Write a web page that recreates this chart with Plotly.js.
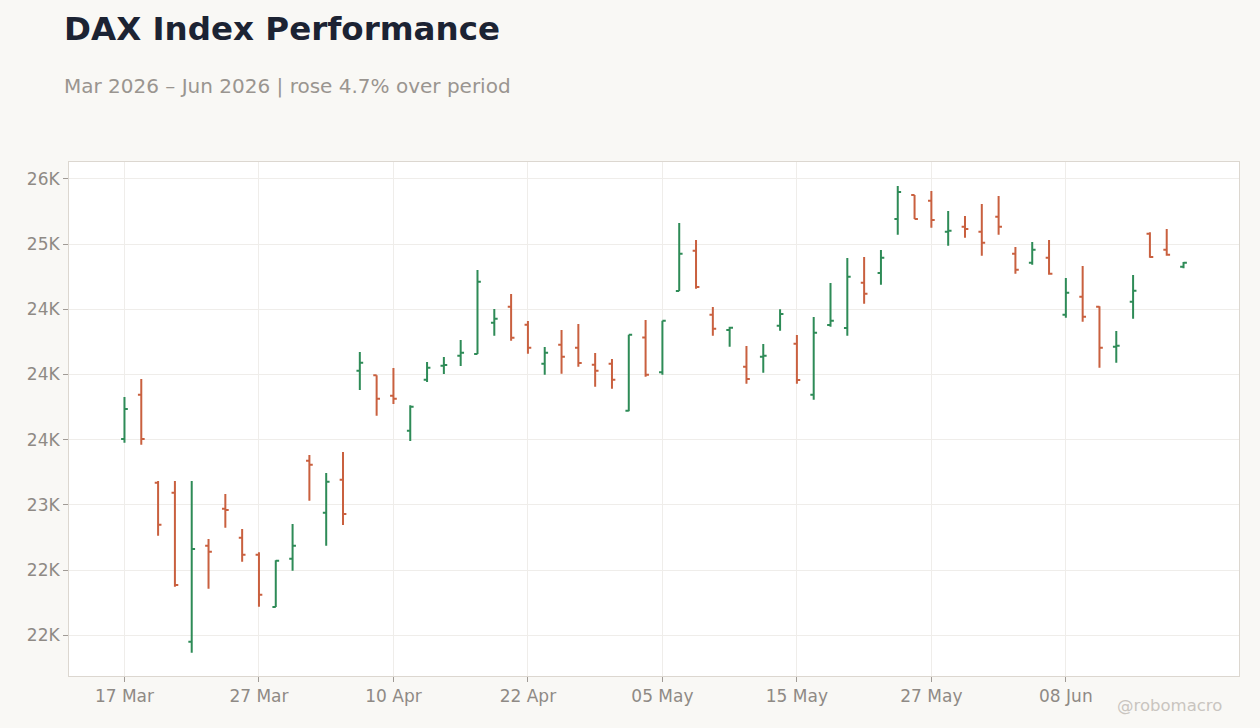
<!DOCTYPE html>
<html lang="en">
<head>
    <meta charset="UTF-8">
    <title>DAX Index Performance</title>
    <script src="https://cdn.plot.ly/plotly-3.0.1.min.js"></script>
    <style>
        * { margin: 0; padding: 0; box-sizing: border-box; }
        body { background: #f9f8f5; }
        #chart { width: 1260px; height: 728px; }
    </style>
</head>
<body>
    <div id="chart"></div>

    <script>
        // trading days (Xetra calendar, holidays skipped)
        const dates = [
            '2026-03-17', '2026-03-18', '2026-03-19', '2026-03-20', '2026-03-23', '2026-03-24',
            '2026-03-25', '2026-03-26', '2026-03-27', '2026-03-30', '2026-03-31', '2026-04-01',
            '2026-04-02', '2026-04-07', '2026-04-08', '2026-04-09', '2026-04-10', '2026-04-13',
            '2026-04-14', '2026-04-15', '2026-04-16', '2026-04-17', '2026-04-20', '2026-04-21',
            '2026-04-22', '2026-04-23', '2026-04-24', '2026-04-27', '2026-04-28', '2026-04-29',
            '2026-04-30', '2026-05-04', '2026-05-05', '2026-05-06', '2026-05-07', '2026-05-08',
            '2026-05-11', '2026-05-12', '2026-05-13', '2026-05-14', '2026-05-15', '2026-05-18',
            '2026-05-19', '2026-05-20', '2026-05-21', '2026-05-22', '2026-05-25', '2026-05-26',
            '2026-05-27', '2026-05-28', '2026-05-29', '2026-06-01', '2026-06-02', '2026-06-03',
            '2026-06-04', '2026-06-05', '2026-06-08', '2026-06-09', '2026-06-10', '2026-06-11',
            '2026-06-12', '2026-06-15', '2026-06-16', '2026-06-17'
        ];

        const openPx = [
            23505, 23845, 23170, 23094, 21951, 22687, 22971, 22749, 22618, 22217, 22587, 23339,
            22940, 23193, 24029, 23994, 23838, 23569, 23960, 24068, 24144, 24157, 24397, 24520,
            24382, 24083, 24229, 24206, 24075, 24083, 23722, 24285, 24017, 24640, 24949, 24459,
            24341, 24060, 24137, 24374, 24236, 23845, 24380, 24357, 24704, 24778, 25193, 25376,
            25333, 25095, 25134, 25095, 25210, 24927, 24857, 24896, 24459, 24597, 24520, 24213,
            24558, 25080, 24957, 24827
        ];
        const highPx = [
            23827, 23966, 23183, 23183, 23183, 22739, 23084, 22815, 22637, 22575, 22854, 23383,
            23245, 23406, 24173, 23994, 24050, 23764, 24096, 24134, 24265, 24802, 24502, 24617,
            24410, 24211, 24341, 24387, 24165, 24119, 24305, 24418, 24413, 25162, 25032, 24518,
            24367, 24219, 24234, 24500, 24303, 24441, 24702, 24894, 24901, 24955, 25446, 25376,
            25407, 25254, 25216, 25308, 25369, 24978, 25016, 25032, 24740, 24832, 24523, 24334,
            24763, 25091, 25116, 24863
        ];
        const lowPx = [
            23477, 23462, 22764, 22373, 21867, 22357, 22825, 22564, 22219, 22217, 22495, 23032,
            22687, 22846, 23881, 23684, 23774, 23490, 23943, 24004, 24065, 24157, 24298, 24259,
            24160, 23999, 24006, 24060, 23906, 23891, 23718, 23983, 23999, 24640, 24658, 24298,
            24213, 23930, 24014, 24336, 23930, 23807, 24367, 24298, 24543, 24689, 25072, 25193,
            25126, 24988, 25049, 24911, 25072, 24773, 24842, 24765, 24436, 24405, 24052, 24091,
            24428, 24896, 24911, 24815
        ];
        const closePx = [
            23735, 23505, 22848, 22386, 22662, 22641, 22961, 22618, 22311, 22572, 22687, 23308,
            23178, 22930, 24091, 23815, 23815, 23753, 24052, 24073, 24167, 24712, 24428, 24282,
            24206, 24167, 24137, 24088, 24029, 23960, 24305, 23999, 24413, 24926, 24671, 24351,
            24359, 23966, 24144, 24464, 23958, 24321, 24413, 24750, 24620, 24896, 25400, 25193,
            25185, 25103, 25116, 25011, 25134, 24804, 24957, 24773, 24627, 24443, 24206, 24221,
            24643, 24901, 24919, 24857
        ];

        const xTickDates = ['2026-03-17', '2026-03-27', '2026-04-10', '2026-04-22',
                            '2026-05-05', '2026-05-15', '2026-05-27', '2026-06-08'];
        const xTickText = ['17 Mar', '27 Mar', '10 Apr', '22 Apr', '05 May', '15 May', '27 May', '08 Jun'];

        const yTickVals = [22000, 22500, 23000, 23500, 24000, 24500, 25000, 25500];
        const yTickText = ['22K', '22K', '23K', '24K', '24K', '24K', '25K', '26K'];

        const UP = '#2e8b57';
        const DOWN = '#c9603f';
        const FONT = 'DejaVu Sans, Verdana, sans-serif';

        const idx = dates.map((d, i) => i);

        const ohlc = {
            type: 'ohlc',
            x: idx,
            open: openPx,
            high: highPx,
            low: lowPx,
            close: closePx,
            text: dates,
            increasing: { line: { color: UP, width: 2 } },
            decreasing: { line: { color: DOWN, width: 2 } },
            tickwidth: 0.2,
            hoverinfo: 'skip',
            showlegend: false
        };

        const layout = {
            width: 1260,
            height: 728,
            paper_bgcolor: '#f9f8f5',
            plot_bgcolor: '#ffffff',
            font: { family: FONT, color: '#8f8a85', size: 17 },
            margin: { l: 69, r: 21, t: 162, b: 52 },
            showlegend: false,
            xaxis: {
                type: 'linear',
                range: [-3.3, 66.3],
                tickvals: xTickDates.map(d => dates.indexOf(d)),
                ticktext: xTickText,
                showgrid: true,
                gridcolor: '#efedea',
                gridwidth: 1,
                zeroline: false,
                showline: true,
                linecolor: '#dcd7d0',
                linewidth: 1,
                mirror: true,
                ticks: 'outside',
                ticklen: 5,
                tickcolor: '#a09b96',
                tickfont: { size: 17, color: '#8f8a85' },
                rangeslider: { visible: false },
                fixedrange: true
            },
            yaxis: {
                range: [21688, 25630],
                tickvals: yTickVals,
                ticktext: yTickText,
                showgrid: true,
                gridcolor: '#efedea',
                gridwidth: 1,
                zeroline: false,
                showline: true,
                linecolor: '#dcd7d0',
                linewidth: 1,
                mirror: true,
                ticks: 'outside',
                ticklen: 5,
                tickcolor: '#a09b96',
                tickfont: { size: 17, color: '#8f8a85' },
                fixedrange: true
            },
            annotations: [
                {
                    text: '<b>DAX Index Performance</b>',
                    xref: 'paper', yref: 'paper',
                    x: -7 / 1170, y: 1 + (162 - 29) / 514,
                    xanchor: 'left', yanchor: 'middle',
                    showarrow: false,
                    font: { family: FONT, size: 32.5, color: '#1c2333' }
                },
                {
                    text: 'Mar 2026 – Jun 2026 | rose 4.7% over period',
                    xref: 'paper', yref: 'paper',
                    x: -7 / 1170, y: 1 + (162 - 86) / 514,
                    xanchor: 'left', yanchor: 'middle',
                    showarrow: false,
                    font: { family: FONT, size: 20, color: '#9a9590' }
                },
                {
                    text: '@robomacro',
                    xref: 'paper', yref: 'paper',
                    x: (1224 - 69) / 1170, y: -(705 - 676) / 514,
                    xanchor: 'right', yanchor: 'middle',
                    showarrow: false,
                    font: { family: FONT, size: 16.5, color: '#c9c5c0' }
                }
            ]
        };

        const config = { displayModeBar: false, staticPlot: true };

        Plotly.newPlot('chart', [ohlc], layout, config);
    </script>
</body>
</html>
